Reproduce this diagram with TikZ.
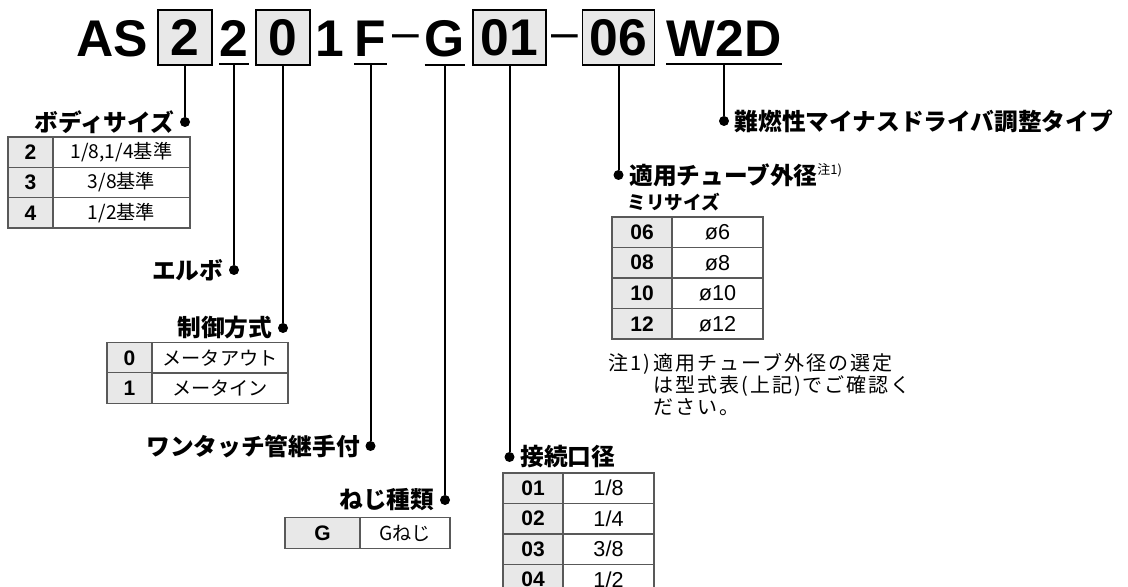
\documentclass[tikz,border=0pt]{standalone}
\usepackage{fontspec}
\setmainfont{Liberation Sans}
\newfontfamily\jp{Noto Sans CJK JP}
\newfontfamily\jpnote{Noto Sans CJK JP}[LetterSpace=10]
\usetikzlibrary{positioning}
\definecolor{keygray}{gray}{0.91}
\definecolor{rulegray}{gray}{0.35}
\tikzset{
  part/.style={font=\bfseries\fontsize{25.8}{26}\selectfont, inner xsep=0pt, inner ysep=3.5pt, anchor=base},
  partbox/.style={draw, line width=0.75pt, fill=keygray, minimum height=27.5pt, inner sep=0pt,
    font=\bfseries\fontsize{25.8}{26}\selectfont},
  hyphen/.style={font=\fontsize{24}{24}\selectfont, inner sep=0pt, anchor=base},
  uline/.style={line width=1pt},
  lead/.style={line width=1pt},
  dot/.style={circle, fill, inner sep=0pt, minimum size=5pt},
  lbl/.style={font=\jp\bfseries\fontsize{11.85}{14}\selectfont, inner sep=0pt},
  key/.style={draw=rulegray, line width=0.6pt, fill=keygray, minimum height=15.2pt, inner sep=0pt,
    font=\bfseries\fontsize{10.5}{12}\selectfont},
  val/.style={draw=rulegray, line width=0.6pt, minimum height=15.2pt, inner sep=0pt,
    font=\jp\fontsize{9.6}{11}\selectfont},
  valnum/.style={val, font=\fontsize{10.8}{12}\selectfont},
  note/.style={font=\jpnote\fontsize{10}{12}\selectfont, inner sep=0pt, anchor=base west}
}
\begin{document}
\begin{tikzpicture}[x=0.5pt,y=-0.5pt]
\useasboundingbox (0,0) rectangle (1128,587);

% part number
\node[part] (tas) at (112.5,57) {AS};
\node[partbox, minimum width=27pt] (tsize) at (185,37.5) {2};
\node[part] (tbody) at (234,57) {2};
\node[partbox, minimum width=27pt] (tctrl) at (283,37.5) {0};
\node[part] (tone) at (330,57) {1};
\node[part] (tfit) at (370.5,57) {F};
\node[hyphen] (tdash1) at (406,48.5) {–};
\node[part] (tthr) at (445,57) {G};
\node[partbox, minimum width=36.5pt] (tport) at (509.5,37.5) {01};
\node[hyphen] (tdash2) at (564.5,48.5) {–};
\node[partbox, minimum width=36pt] (ttube) at (618.5,37.5) {06};
\node[part] (tw2d) at (724,57) {W2D};

\draw[uline] (tbody.south west) -- (tbody.south east);
\draw[uline] (tfit.south west) -- (tfit.south east);
\draw[uline] (tthr.south west) -- (tthr.south east);
\draw[uline] (tw2d.south west) -- (tw2d.south east);

% leaders
\node[dot] (dsize) at (tsize.south |- 0,122) {};
\node[dot] (dbody) at (tbody.south |- 0,270) {};
\node[dot] (dctrl) at (tctrl.south |- 0,328) {};
\node[dot] (dfit) at (tfit.south |- 0,446) {};
\node[dot] (dthr) at (tthr.south |- 0,500) {};
\node[dot] (dport) at (tport.south |- 0,457) {};
\node[dot] (dtube) at (ttube.south |- 0,175) {};
\node[dot] (dw2d) at (tw2d.south |- 0,121) {};
\foreach \t/\d in {tsize/dsize,tbody/dbody,tctrl/dctrl,tfit/dfit,tthr/dthr,tport/dport,ttube/dtube,tw2d/dw2d}
  \draw[lead] (\t.south) -- (\d);

\node[lbl, left=2.5pt of dsize] (lsize) {ボディサイズ};
\node[lbl, left=2.5pt of dbody] (lbody) {エルボ};
\node[lbl, left=2.5pt of dctrl] (lctrl) {制御方式};
\node[lbl, left=2.5pt of dfit] (lfit) {ワンタッチ管継手付};
\node[lbl, left=2.5pt of dthr] (lthr) {ねじ種類};
\node[lbl, right=2.5pt of dport] (lport) {接続口径};
\node[lbl, right=2.5pt of dtube] (ltube) {適用チューブ外径\raisebox{5pt}{\mdseries\fontsize{6.5}{7}\selectfont 注1)}};
\node[lbl, right=2.5pt of dw2d] (lw2d) {難燃性マイナスドライバ調整タイプ};
\node[lbl, font=\jp\bfseries\fontsize{9.3}{11}\selectfont, anchor=west] (lmm) at (627,202) {ミリサイズ};

% tables
\foreach \k/\v [count=\i] in {2/{1/8,1/4基準},3/{3/8基準},4/{1/2基準}} {
  \node[key, minimum width=22.5pt] (ksize\i) at (30.5,{137+30.33*\i-15.17}) {\k};
  \node[val, minimum width=68.5pt] (vsize\i) at (121.5,{137+30.33*\i-15.17}) {\v};
}
\foreach \k/\v [count=\i] in {0/メータアウト,1/メータイン} {
  \node[key, minimum width=22.5pt] (kctrl\i) at (129.5,{343+30*\i-15}) {\k};
  \node[val, minimum width=68pt] (vctrl\i) at (220,{343+30*\i-15}) {\v};
}
\node[key, minimum width=37.5pt] (kthr1) at (322.5,533) {G};
\node[val, minimum width=45pt] (vthr1) at (405,533) {Gねじ};
\foreach \k/\v [count=\i] in {06/ø6,08/ø8,10/ø10,12/ø12} {
  \node[key, minimum width=30pt] (ktube\i) at (642,{217+30.5*\i-15.25}) {\k};
  \node[valnum, minimum width=45.5pt] (vtube\i) at (717.5,{217+30.5*\i-15.25}) {\v};
}
\foreach \k/\v [count=\i] in {01/{1/8},02/{1/4},03/{3/8},04/{1/2}} {
  \node[key, minimum width=30pt] (kport\i) at (533,{473+30.5*\i-15.25}) {\k};
  \node[valnum, minimum width=45.5pt] (vport\i) at (608.5,{473+30.5*\i-15.25}) {\v};
}

% note
\node[note] (nmark) at (608,370) {注1)};
\node[note] (nline1) at (653,370) {適用チューブ外径の選定};
\node[note] (nline2) at (653,392) {は型式表(上記)でご確認く};
\node[note] (nline3) at (653,414.5) {ださい。};
\end{tikzpicture}
\end{document}
